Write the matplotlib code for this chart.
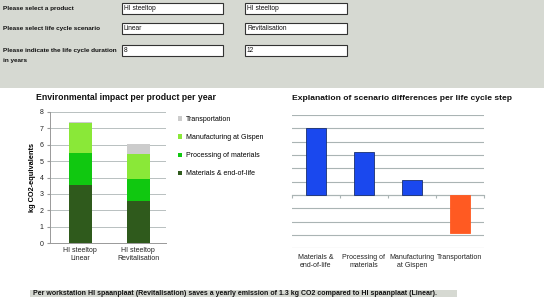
import matplotlib
matplotlib.use('Agg')
import matplotlib.pyplot as plt
from matplotlib.patches import Rectangle

plt.rcParams['font.family'] = ['Liberation Sans', 'DejaVu Sans']

# form fields
form_labels = ['Please select a product', 'Please select life cycle scenario',
               'Please indicate the life cycle duration\nin years']
field_left = ['HI steeltop', 'Linear', '8']
field_right = ['HI steeltop', 'Revitalisation', '12']

# left chart: stacked impact per product per year
products = ['HI steeltop\nLinear', 'HI steeltop\nRevitalisation']
steps = ['Materials & end-of-life', 'Processing of materials',
         'Manufacturing at Gispen', 'Transportation']
materials = [3.55, 2.55]
processing = [1.97, 1.33]
manufacturing = [1.83, 1.57]
transport = [0.05, 0.60]
stack_colors = ['#2f5a1c', '#10c810', '#8ae838', '#cccccc']

# right chart: differences per life cycle step
diff_labels = ['Materials &\nend-of-life', 'Processing of\nmaterials',
               'Manufacturing\nat Gispen', 'Transportation']
diff_values = [1.01, 0.64, 0.22, -0.57]

summary = ('Per workstation HI spaanplaat (Revitalisation) saves a yearly emission of '
           '1.3 kg CO2 compared to HI spaanplaat (Linear).')

W, H = 544, 299
fig = plt.figure(figsize=(W / 100, H / 100), dpi=100)
fig.patch.set_facecolor('white')

# background layer in pixel coordinates
bg = fig.add_axes([0, 0, 1, 1])
bg.set_xlim(0, W)
bg.set_ylim(H, 0)
bg.axis('off')
bg.add_patch(Rectangle((0, 0), W, 88, facecolor='#d6d9d2', edgecolor='none'))
row_tops = [3.3, 23.3, 45]
for i, lab in enumerate(form_labels):
    y0 = row_tops[i]
    lines = lab.split('\n')
    bg.text(3, y0 + 5.5, lines[0], fontsize=4.6, fontweight='bold', va='center', color='#111111')
    if len(lines) > 1:
        bg.text(3, 60.7, lines[1], fontsize=4.6, fontweight='bold', va='center', color='#111111')
    for x0, x1, val in [(121.7, 223.3, field_left[i]), (245, 347.3, field_right[i])]:
        bg.add_patch(Rectangle((x0, y0), x1 - x0, 10.7, facecolor='white',
                               edgecolor='#333333', linewidth=0.8))
        bg.text(x0 + 2, y0 + 5.5, val, fontsize=4.8, va='center', color='#111111')

bg.add_patch(Rectangle((30, 290), 427, 6.8, facecolor='#d6d9d2', edgecolor='none'))
bg.text(33, 293.4, summary, fontsize=5.0, fontweight='bold', va='center', color='#111111')

# left chart
ax1 = fig.add_axes([50 / W, (H - 243) / H, 116 / W, 131 / H])
x = range(len(products))
bottoms = [0, 0]
for series, color, name in zip([materials, processing, manufacturing, transport],
                               stack_colors, steps):
    ax1.bar(x, series, 0.4, bottom=bottoms, color=color, label=name, zorder=3)
    bottoms = [b + s for b, s in zip(bottoms, series)]
ax1.set_xlim(-0.52, 1.48)
ax1.set_ylim(0, 8)
ax1.set_yticks(range(0, 9))
ax1.set_xticks(list(x))
ax1.set_xticklabels(products, fontsize=5, color='#222222')
ax1.tick_params(axis='x', length=0, pad=3)
ax1.tick_params(axis='y', labelsize=5, length=2.5, color='#999999', pad=2, labelcolor='#222222')
ax1.grid(axis='y', color='#b8c0c0', linewidth=0.7, zorder=0)
for s in ['top', 'right']:
    ax1.spines[s].set_visible(False)
for s in ['left', 'bottom']:
    ax1.spines[s].set_color('#999999')
    ax1.spines[s].set_linewidth(0.7)
ax1.set_ylabel('kg CO2-equivalents', fontsize=5.3, fontweight='bold', labelpad=3)
ax1.set_title('Environmental impact per product per year', fontsize=6.3,
              fontweight='bold', loc='left', x=-0.12, pad=8.5, color='#111111')
handles, labels = ax1.get_legend_handles_labels()
ax1.legend(handles[::-1], labels[::-1], loc='upper left', bbox_to_anchor=(178 / W, (H - 116) / H),
           bbox_transform=fig.transFigure, frameon=False, fontsize=5,
           handlelength=0.6, handleheight=0.6, handletextpad=0.5, labelspacing=1.6,
           borderaxespad=0, borderpad=0)

# right chart
ax2 = fig.add_axes([292 / W, (H - 248.3) / H, 192 / W, 133.3 / H])
bar_colors = ['#1a48ee' if v >= 0 else '#ff5a22' for v in diff_values]
ax2.bar(range(len(diff_values)), diff_values, 0.4, color=bar_colors,
        edgecolor=['#1a3070' if v >= 0 else '#ff5a22' for v in diff_values],
        linewidth=0.6, zorder=3)
ax2.set_xlim(-0.5, 3.5)
ax2.set_ylim(-0.8, 1.2)
ax2.set_yticks([i * 0.2 - 0.8 for i in range(11)])
ax2.set_yticklabels([])
ax2.tick_params(axis='y', length=0)
ax2.grid(axis='y', color='#aab4b4', linewidth=0.8, zorder=0)
for s in ['top', 'right', 'left']:
    ax2.spines[s].set_visible(False)
ax2.spines['bottom'].set_position(('data', 0))
ax2.spines['bottom'].set_color('#aab4b4')
ax2.spines['bottom'].set_linewidth(0.8)
ax2.set_xticks(range(len(diff_labels)))
ax2.set_xticklabels(diff_labels, fontsize=5, color='#222222')
ax2.set_xticks([-0.5, 0.5, 1.5, 2.5, 3.5], minor=True)
ax2.tick_params(axis='x', which='major', length=0, pad=42.5)
ax2.tick_params(axis='x', which='minor', length=2.5, color='#aab4b4', width=0.8)
ax2.set_title('Explanation of scenario differences per life cycle step', fontsize=6.1,
              fontweight='bold', loc='left', x=0.0, pad=10.5, color='#111111')

fig.savefig('out.png', dpi=100, facecolor='white')
